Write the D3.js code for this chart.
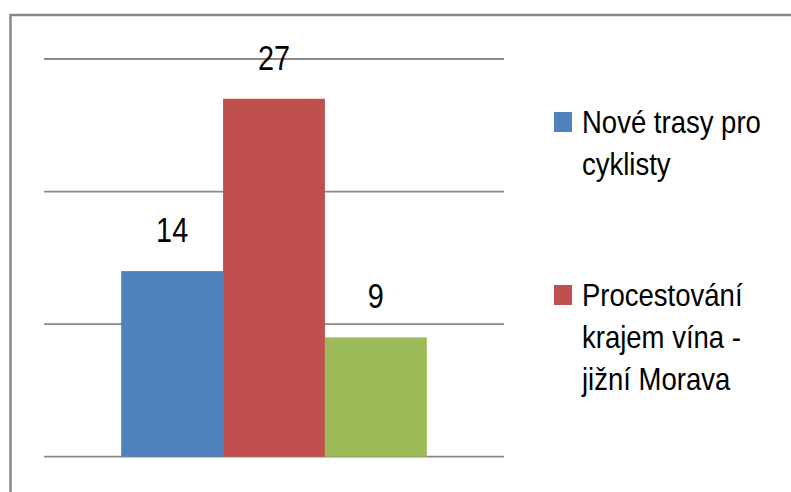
<!DOCTYPE html>
<html>
<head>
<meta charset="utf-8">
<script src="https://cdn.jsdelivr.net/npm/d3@7"></script>
<style>
  html, body { margin: 0; padding: 0; background: #fff; }
  svg text { font-family: "Liberation Sans", Arial, sans-serif; fill: #000; }
</style>
</head>
<body>
<div id="chart"></div>
<script>
var width = 791;
var height = 492;

// data
var categories = [""];
var seriesKeys = ["trasy", "vino", "other"];
var seriesValues = [14, 27, 9];
var seriesColors = ["#4F81BD", "#C0504D", "#9BBB59"];
var legendLines = [["Nové trasy pro", "cyklisty"], ["Procestování", "krajem vína -", "jižní Morava"]];
var yTicks = [0, 10, 20, 30];

var plot = {left: 44, right: 504, top: 59, bottom: 456.7};

var svg = d3.select("#chart").append("svg").attr("width", width).attr("height", height);

// outer chart border (runs off the right and bottom edge)
svg.append("rect").attr("x", 10.5).attr("y", 15).attr("width", 820).attr("height", 520)
    .attr("fill", "none").attr("stroke", "#878787").attr("stroke-width", 2.5);

var y = d3.scaleLinear().domain([0, 30]).range([plot.bottom, plot.top]);
var x0 = d3.scaleBand().domain(categories).range([plot.left, plot.right]).paddingInner(0).paddingOuter(0.2526);
var x1 = d3.scaleBand().domain(seriesKeys).range([0, x0.bandwidth()]).padding(0);

// gridlines
svg.append("g").selectAll("line").data(yTicks).enter().append("line")
    .attr("x1", plot.left).attr("x2", plot.right)
    .attr("y1", function(d) { return y(d); }).attr("y2", function(d) { return y(d); })
    .attr("stroke", "#8a8a8a").attr("stroke-width", 1.8);

var bars = seriesKeys.map(function(k, i) { return {key: k, value: seriesValues[i], color: seriesColors[i]}; });

var g = svg.append("g").attr("transform", "translate(" + x0(categories[0]) + ",0)");

g.selectAll("rect").data(bars).enter().append("rect")
    .attr("x", function(d) { return x1(d.key); })
    .attr("y", function(d) { return y(d.value); })
    .attr("width", x1.bandwidth())
    .attr("height", function(d) { return y(0) - y(d.value); })
    .attr("fill", function(d) { return d.color; });

// data labels
g.selectAll("g.lbl").data(bars).enter().append("g").attr("class", "lbl")
    .attr("transform", function(d) { return "translate(" + (x1(d.key) + x1.bandwidth() / 2) + "," + (y(d.value) - 29) + ") scale(0.8,1)"; })
    .append("text").attr("text-anchor", "middle").style("font-size", "36px")
    .text(function(d) { return d.value; });

// legend
var legend = svg.append("g");
legendLines.forEach(function(lines, i) {
    var base = 133 + i * 173;
    legend.append("rect").attr("x", 554).attr("y", base - 21).attr("width", 18).attr("height", 20)
        .attr("fill", seriesColors[i]);
    lines.forEach(function(line, j) {
        legend.append("g").attr("transform", "translate(582," + (base + j * 42) + ") scale(0.86,1)")
            .append("text").style("font-size", "32px").text(line);
    });
});
</script>
</body>
</html>
